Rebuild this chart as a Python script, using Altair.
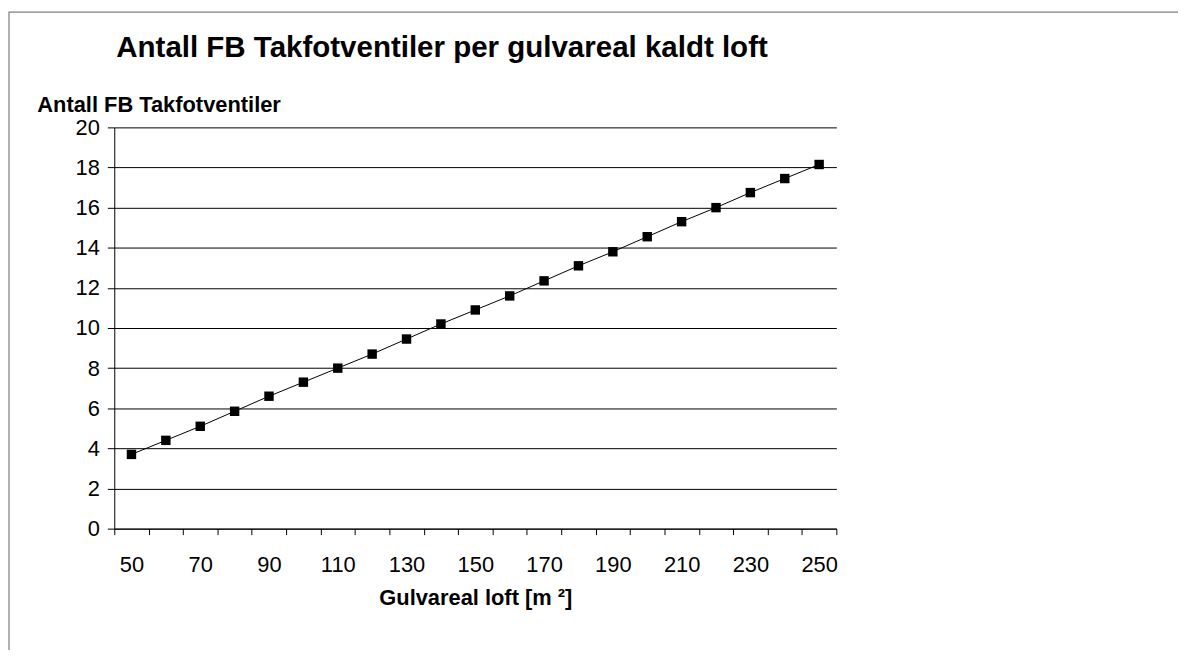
import altair as alt
import pandas as pd

# Data
areas = [50, 60, 70, 80, 90, 100, 110, 120, 130, 140, 150,
         160, 170, 180, 190, 200, 210, 220, 230, 240, 250]
vents = [3.7, 4.4, 5.1, 5.85, 6.6, 7.3, 8.0, 8.7, 9.45, 10.2, 10.9,
         11.6, 12.35, 13.1, 13.8, 14.55, 15.3, 16.0, 16.75, 17.45, 18.15]
x_tick_values = list(range(45, 256, 10))   # category boundaries
y_tick_values = list(range(0, 21, 2))

df = pd.DataFrame({"area": areas, "vents": vents})

W, H = 727, 404
band = W / len(areas)
FONT = "Liberation Sans"

xscale = alt.Scale(domain=[45, 255], nice=False, zero=False)
yscale = alt.Scale(domain=[0, 20], nice=False, zero=True)

xaxis = alt.Axis(
    values=x_tick_values,
    labelExpr="(datum.value - 45) % 20 == 0 ? format(datum.value + 5, 'd') : ''",
    labelOffset=band / 2,
    labelOverlap=False,
    labelFlush=False,
    labelBound=False,
    labelFontSize=22,
    labelPadding=20,
    labelColor="black",
    tickSize=6,
    tickColor="black",
    domainColor="black",
    grid=False,
    title="Gulvareal loft [m ²]",
    titleFontSize=22,
    titleFontWeight="bold",
    titleColor="black",
    titleBaseline="alphabetic",
    titleY=76,
)

yaxis = alt.Axis(
    values=y_tick_values,
    labelFontSize=22,
    labelPadding=8,
    labelColor="black",
    tickSize=7,
    tickColor="black",
    domainColor="black",
    grid=True,
    gridColor="black",
    gridWidth=1,
    title="Antall FB Takfotventiler",
    titleAngle=0,
    titleAlign="left",
    titleBaseline="alphabetic",
    titleFontSize=22,
    titleFontWeight="bold",
    titleColor="black",
    titleX=-78,
    titleY=-16,
)

base = alt.Chart(df).encode(
    x=alt.X("area:Q", scale=xscale, axis=xaxis),
    y=alt.Y("vents:Q", scale=yscale, axis=yaxis),
)

line = base.mark_line(color="black", strokeWidth=1)
points = base.mark_point(shape="square", filled=True, color="black",
                         size=90, opacity=1)

frame = alt.Chart(pd.DataFrame({"f": [0]})).mark_rect(
    filled=False, stroke="#7f7f7f", strokeWidth=1.2, clip=False
).encode(
    x=alt.value(-106), y=alt.value(-116),
    x2=alt.value(1200), y2=alt.value(700),
)

chart = alt.layer(frame, line, points).properties(
    width=W,
    height=H,
    title=alt.TitleParams(
        "Antall FB Takfotventiler per gulvareal kaldt loft",
        anchor="start",
        frame="group",
        fontSize=29.7,
        fontWeight="bold",
        color="black",
        font=FONT,
        baseline="alphabetic",
        offset=-75,
        dx=2,
    ),
    autosize=alt.AutoSizeParams(type="none"),
    padding={"left": 107, "top": 118, "right": 344, "bottom": 120},
).configure(
    font=FONT,
).configure_view(
    stroke=None,
).configure_axis(
    labelFont=FONT,
    titleFont=FONT,
)

chart.save("out.html", embed_options={"renderer": "svg", "actions": False})
